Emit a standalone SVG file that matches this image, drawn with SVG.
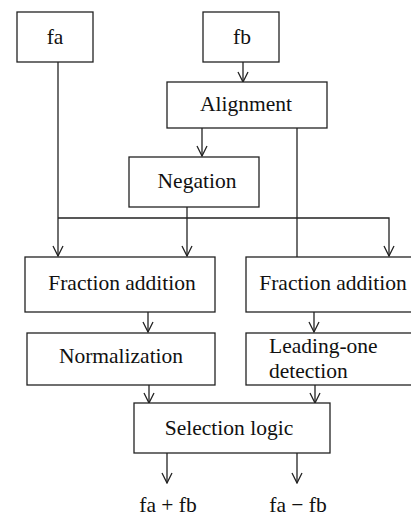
<svg xmlns="http://www.w3.org/2000/svg" width="411" height="517" viewBox="0 0 411 517">
<style>
.box{fill:#fff;stroke:#222;stroke-width:1.3}
text{font-family:'Liberation Serif','DejaVu Serif','Times New Roman',serif;font-size:21.5px;fill:#111}
.t{text-anchor:middle}
.c{fill:none;stroke:#222;stroke-width:1.3}
</style>
<defs>
<marker id="ah" viewBox="0 0 12 12" refX="11" refY="6" markerWidth="12" markerHeight="12" markerUnits="userSpaceOnUse" orient="auto">
<path d="M1,1 L11,6 L1,11" fill="none" stroke="#222" stroke-width="1.3"/>
</marker>
</defs>
<rect width="411" height="517" fill="#fff"/>
<g id="connectors">
<path class="c" d="M243,62 V82" marker-end="url(#ah)"/>
<path class="c" d="M202,128 V156" marker-end="url(#ah)"/>
<path class="c" d="M297,128 V257"/>
<path class="c" d="M58,62 V256" marker-end="url(#ah)"/>
<path class="c" d="M58,218 H389 V256" marker-end="url(#ah)"/>
<path class="c" d="M187,207 V256" marker-end="url(#ah)"/>
<path class="c" d="M148,312 V332" marker-end="url(#ah)"/>
<path class="c" d="M314,312 V332" marker-end="url(#ah)"/>
<path class="c" d="M149,385 V403" marker-end="url(#ah)"/>
<path class="c" d="M315,385 V403" marker-end="url(#ah)"/>
<path class="c" d="M167,453 V483" marker-end="url(#ah)"/>
<path class="c" d="M297,453 V483" marker-end="url(#ah)"/>
</g>
<g id="fa"><rect class="box" x="17" y="12" width="76" height="50"/><text class="t" x="55" y="44" font-family="Liberation Serif, serif">fa</text></g>
<g id="fb"><rect class="box" x="203" y="12" width="76" height="50"/><text class="t" x="242" y="44" font-family="Liberation Serif, serif">fb</text></g>
<g id="alignment"><rect class="box" x="167" y="82" width="160" height="46"/><text class="t" x="246" y="111" font-family="Liberation Serif, serif">Alignment</text></g>
<g id="negation"><rect class="box" x="129" y="157" width="130" height="50"/><text class="t" x="197" y="188" font-family="Liberation Serif, serif">Negation</text></g>
<g id="fraction-addition-left"><rect class="box" x="25" y="257" width="190" height="55"/><text class="t" x="122" y="290" font-family="Liberation Serif, serif">Fraction addition</text></g>
<g id="fraction-addition-right"><rect class="box" x="246" y="257" width="170" height="55"/><text class="t" x="333" y="290" font-family="Liberation Serif, serif">Fraction addition</text></g>
<g id="normalization"><rect class="box" x="27" y="333" width="188" height="52"/><text class="t" x="121" y="363" font-family="Liberation Serif, serif">Normalization</text></g>
<g id="leading-one"><rect class="box" x="246" y="333" width="170" height="52"/><text x="269" y="353" font-family="Liberation Serif, serif">Leading-one</text><text x="269" y="378" font-family="Liberation Serif, serif">detection</text></g>
<g id="selection-logic"><rect class="box" x="134" y="403" width="196" height="50"/><text class="t" x="229" y="435" font-family="Liberation Serif, serif">Selection logic</text></g>
<g id="out-sum"><text class="t" x="168" y="512" font-family="Liberation Serif, serif">fa + fb</text></g>
<g id="out-diff"><text class="t" x="298" y="512" font-family="Liberation Serif, serif">fa − fb</text></g>
</svg>
